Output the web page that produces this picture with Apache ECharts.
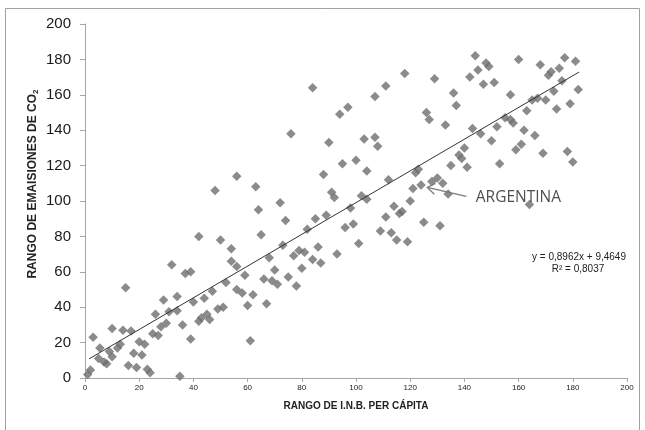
<!DOCTYPE html>
<html><head><meta charset="utf-8">
<script src="https://cdn.jsdelivr.net/npm/echarts@6/dist/echarts.min.js"></script>
<style>html,body{margin:0;padding:0;background:#fff}#c{width:645px;height:430px}</style>
</head><body><div id="c"></div>
<script>
// Rango de I.N.B. per cápita (x) y rango de emisiones de CO2 (y)
const rangoINB = [
  1,2,3,5,5.5,7,8,9,10,10,
  12,13,14,15,16,17,18,19,20,21,
  22,23,24,25,26,27,28,29,30,31,
  32,34,34,35,36,37,39,39,40,42,
  42,43,44,45,46,47,48,49,50,51,
  52,54,54,56,56,56,58,59,60,61,
  62,
  63,64,65,66,67,68,69,70,71,72,
  73,74,75,76,77,78,79,80,81,82,
  84,84,85,86,87,88,89,90,91,92,
  93,94,95,96,97,98,99,100,101,102,
  103,104,104,107,107,108,109,111,111,112,
  113,114,115,116,117,118,119,120,
  121,122,123,124,125,126,127,128,129,130,
  131,132,133,134,135,136,137,138,139,140,
  141,142,143,144,145,146,147,148,149,150,
  151,152,153,155,157,157,158,159,160,161,
  162,163,164,165,166,167,168,169,170,171,
  172,173,174,175,176,177,178,179,180,181,
  182
];
const rangoCO2 = [
  2,4.5,23,11,17,9,8,15,12,28,
  17,19,27,51,7,26.5,14,6,20.5,13,
  19,5,3,25,36,24,29,44,31,37.5,
  64,46,38,1,30,59,60,22,43,80,
  32,34,45,36,33,49,106,39,78,40,
  54,73,66,63,50,114,48,58,41,21,
  47,
  108,95,81,56,42,68,55,61,53,99,
  75,89,57,138,69,52,72,62,71,84,
  164,67,90,74,65,115,92,133,105,102,
  70,149,121,85,153,96,87,123,76,103,
  135,101,117,136,159,131,83,91,165,112,
  82,97,78,93,94,172,77,100,
  107,116,118,109,88,150,146,111,169,113,
  86,110,143,104,120,161,154,126,124,130,
  119,170,141,182,174,138,166,178,176,134,
  167,142,121,147,160,146,144,129,180,132,
  140,151,98,157,137,158,177,127,157,171,
  173,162,152,175,168,181,128,155,122,179,
  163
];
// Línea de tendencia (Excel): y = 0,8962x + 9,4649
const pendiente = 0.8962;
const ordenada = 9.4649;
const tendenciaX = [1.5, 182.3];
const ecuacion = ['y = 0,8962x + 9,4649', 'R² = 0,8037'];
// Anotación Argentina
const argentinaTexto = 'ARGENTINA';
const argentinaEtiqueta = [144.2, 101.7];
const flechaPunta = [126.3, 107.7];
const flechaCola = [140.7, 102.6];
const flechaAla1 = [129.3, 110.0];
const flechaAla2 = [128.9, 103.8];

const puntos = rangoINB.map((x, i) => [x, rangoCO2[i]]);
const tendencia = tendenciaX.map(x => [x, pendiente * x + ordenada]);

const axisGray = '#a6a6a6';
const chart = echarts.init(document.getElementById('c'), null, {renderer: 'canvas'});
chart.setOption({
  animation: false,
  backgroundColor: '#fff',
  grid: {left: 85, right: 18, top: 24, bottom: 52},
  xAxis: {
    type: 'value', min: 0, max: 200, interval: 20,
    splitLine: {show: false},
    axisLine: {lineStyle: {color: axisGray, width: 1}},
    axisTick: {show: true, length: 4, lineStyle: {color: axisGray}},
    axisLabel: {fontSize: 8, color: '#222', margin: 6, fontFamily: 'Liberation Sans'},
    name: 'RANGO DE I.N.B. PER CÁPITA', nameLocation: 'middle', nameGap: 23,
    nameTextStyle: {fontSize: 10, fontWeight: 'bold', color: '#222', fontFamily: 'Liberation Sans'}
  },
  yAxis: {
    type: 'value', min: 0, max: 200, interval: 20,
    splitLine: {show: false},
    axisLine: {show: true, lineStyle: {color: axisGray, width: 1}},
    axisTick: {show: true, length: 5, lineStyle: {color: axisGray}},
    axisLabel: {fontSize: 15, color: '#1a1a1a', margin: 14, fontFamily: 'Liberation Sans'}
  },
  graphic: [
    {type: 'rect', shape: {x: 5.5, y: 8.5, width: 634, height: 440}, style: {fill: 'none', stroke: '#a0a0a0', lineWidth: 1}, silent: true},
    {type: 'text', x: 33, y: 184, rotation: Math.PI / 2,
      style: {text: '{a|RANGO DE EMAISIONES DE CO}{s|2}', align: 'center', verticalAlign: 'middle',
        rich: {a: {fontSize: 12, fontWeight: 'bold', fill: '#222', fontFamily: 'Liberation Sans', lineHeight: 14, verticalAlign: 'middle'},
               s: {fontSize: 8, fontWeight: 'bold', fill: '#222', fontFamily: 'Liberation Sans', lineHeight: 14, verticalAlign: 'bottom'}}}},
    {type: 'text', x: 579, y: 257, style: {text: ecuacion[0], align: 'center', verticalAlign: 'middle', fontSize: 10, fill: '#222', fontFamily: 'Liberation Sans'}},
    {type: 'text', x: 578, y: 269, style: {text: ecuacion[1], align: 'center', verticalAlign: 'middle', fontSize: 10, fill: '#222', fontFamily: 'Liberation Sans'}}
  ],
  series: [
    {type: 'scatter', data: puntos, symbol: 'diamond', symbolSize: 9.5,
      itemStyle: {color: '#6e6e6e'}, z: 2},
    {type: 'line', data: tendencia, showSymbol: false, symbol: 'none',
      lineStyle: {color: '#333', width: 1}, z: 3},
    {type: 'lines', coordinateSystem: 'cartesian2d', polyline: true, z: 4,
      lineStyle: {color: '#7a7a7a', width: 1.3, opacity: 1},
      data: [{coords: [flechaCola, flechaPunta]}, {coords: [flechaAla1, flechaPunta, flechaAla2]}]},
    {type: 'scatter', data: [argentinaEtiqueta], symbolSize: 0, z: 5,
      label: {show: true, position: 'right', distance: 0, formatter: argentinaTexto,
        fontSize: 15.5, color: '#222', fontFamily: 'Open Sans'}}
  ]
});
</script></body></html>
